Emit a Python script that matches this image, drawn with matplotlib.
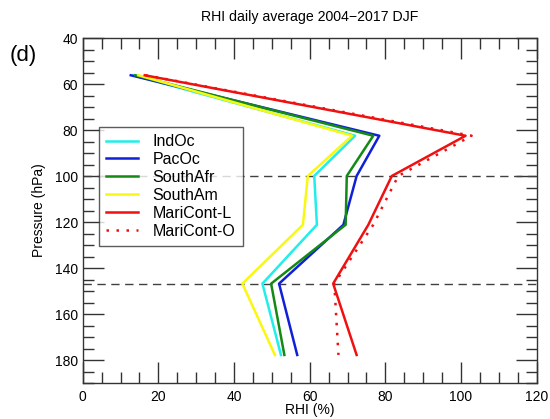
import matplotlib.pyplot as plt
from matplotlib.ticker import MultipleLocator

plt.rcParams['font.family'] = ['Liberation Sans', 'DejaVu Sans']

# MLS pressure levels (hPa)
pressure = [56.2, 82.5, 100.0, 121.2, 146.8, 177.8]

# daily mean RHI (%) per region
indoc = [13.4, 72.0, 61.2, 61.9, 47.5, 52.4]
pacoc = [12.7, 78.4, 72.4, 68.9, 51.9, 56.7]
southafr = [13.9, 76.8, 69.8, 69.5, 49.8, 53.3]
southam = [14.7, 71.2, 59.5, 58.2, 42.2, 50.8]
maricont_l = [16.4, 101.2, 81.7, 75.5, 66.2, 72.4]
maricont_o = [16.6, 102.8, 83.4, 76.8, 66.5, 67.6]

fig = plt.figure(figsize=(5.5, 4.19), dpi=100)
ax = fig.add_axes([0.1504, 0.0859, 0.8254, 0.8234])

ax.axhline(100, color='#404040', lw=1, ls=(0, (6, 4)))
ax.axhline(146.8, color='#404040', lw=1, ls=(0, (6, 4)))

lw = 1.8
ax.plot(indoc, pressure, color='#20eee8', lw=lw, label='IndOc')
ax.plot(pacoc, pressure, color='#1020d8', lw=lw, label='PacOc')
ax.plot(southafr, pressure, color='#148a14', lw=lw, label='SouthAfr')
ax.plot(southam, pressure, color='#f8f810', lw=lw, label='SouthAm')
ax.plot(maricont_l, pressure, color='#f01010', lw=lw, label='MariCont-L')
ax.plot(maricont_o, pressure, color='#f01010', lw=lw, ls=(0, (1, 3)), label='MariCont-O')

ax.set_xlim(0, 120)
ax.set_ylim(190, 40)
ax.xaxis.set_major_locator(MultipleLocator(20))
ax.xaxis.set_minor_locator(MultipleLocator(5))
ax.yaxis.set_major_locator(MultipleLocator(20))
ax.yaxis.set_minor_locator(MultipleLocator(5))
ax.tick_params(which='both', direction='in', top=True, right=True,
               color='#333333', labelsize=10)
ax.tick_params(which='major', length=15, width=1)
ax.tick_params(which='minor', length=8, width=1)
ax.tick_params(axis='x', pad=5)
for s in ax.spines.values():
    s.set_color('#333333')
    s.set_linewidth(1)

ax.set_xlabel('RHI (%)', fontsize=10, labelpad=-1)
ax.set_ylabel('Pressure (hPa)', fontsize=10, labelpad=6)
ax.set_title('RHI daily average 2004\u22122017 DJF', fontsize=10.2, pad=12)
fig.text(0.018, 0.855, '(d)', fontsize=16)

leg = ax.legend(loc='upper left', bbox_to_anchor=(0.036, 0.742), fontsize=11.5,
                frameon=True, fancybox=False, borderaxespad=0,
                handlelength=2.0, labelspacing=0.18, handletextpad=0.9,
                borderpad=0.45)
leg.get_frame().set_edgecolor('#333333')
leg.get_frame().set_linewidth(1)

fig.savefig('out.png', dpi=100)
